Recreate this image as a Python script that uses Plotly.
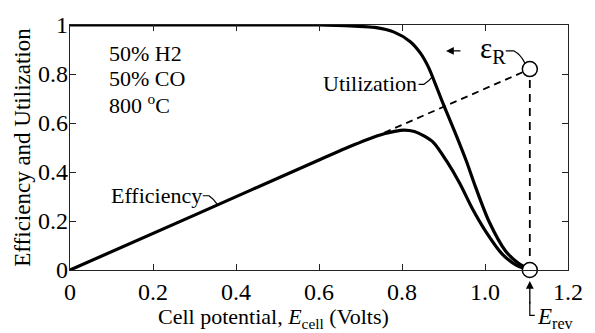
import plotly.graph_objects as go

# ---- data ----
E_util = [0.0, 0.3, 0.6, 0.686, 0.734, 0.781, 0.82, 0.844, 0.864, 0.88, 0.895, 0.911,
          0.927, 0.955, 0.978, 1.01, 1.049, 1.08, 1.108]
utilization = [1.0, 1.0, 1.0, 0.995, 0.99, 0.971, 0.932, 0.886, 0.827, 0.761, 0.696, 0.63,
               0.565, 0.445, 0.335, 0.197, 0.079, 0.028, 0.0]

E_eff = [0.0, 0.3, 0.6, 0.686, 0.72, 0.757, 0.78, 0.805, 0.83, 0.855, 0.876, 0.907,
         0.939, 0.97, 1.002, 1.041, 1.075, 1.108]
efficiency = [0.0, 0.224, 0.449, 0.512, 0.535, 0.556, 0.565, 0.571, 0.565, 0.545, 0.52, 0.446,
              0.354, 0.249, 0.157, 0.066, 0.02, 0.0]

E_REV = 1.108
EPS_R = 0.82
E_DEPART = 0.757

x_ticks = [0, 0.2, 0.4, 0.6, 0.8, 1.0, 1.2]
x_ticktext = ["0", "0.2", "0.4", "0.6", "0.8", "1.0", "1.2"]
y_ticks = [0, 0.2, 0.4, 0.6, 0.8, 1.0]
y_ticktext = ["0", "0.2", "0.4", "0.6", "0.8", "1"]

FONT = "Liberation Serif"
INK = "black"

fig = go.Figure()

# dashed reversible-efficiency line
fig.add_trace(go.Scatter(
    x=[E_DEPART, E_REV], y=[EPS_R * E_DEPART / E_REV, EPS_R],
    mode="lines", line=dict(color=INK, width=1.8, dash="7px,5px"),
    hoverinfo="skip", showlegend=False))
# vertical dashed at E_rev
fig.add_trace(go.Scatter(
    x=[E_REV, E_REV], y=[0, EPS_R],
    mode="lines", line=dict(color=INK, width=1.8, dash="8px,6px"),
    hoverinfo="skip", showlegend=False))

fig.add_trace(go.Scatter(
    x=E_util, y=utilization, mode="lines",
    line=dict(color=INK, width=3.2, shape="spline", smoothing=0.8),
    cliponaxis=False, showlegend=False))
fig.add_trace(go.Scatter(
    x=E_eff, y=efficiency, mode="lines",
    line=dict(color=INK, width=3.2, shape="spline", smoothing=0.8),
    cliponaxis=False, showlegend=False))

# open circles
fig.add_trace(go.Scatter(
    x=[E_REV, E_REV], y=[EPS_R, 0], mode="markers",
    marker=dict(size=15, color="white", line=dict(color=INK, width=1.5)),
    cliponaxis=False, showlegend=False))

axis_common = dict(
    showgrid=False, zeroline=False, showline=True, linecolor="#222", linewidth=1.4,
    mirror="ticks", ticks="inside", ticklen=6, tickwidth=1.2, tickcolor="#222",
    tickfont=dict(family=FONT, size=24, color=INK),
)

fig.update_layout(
    width=595, height=333,
    margin=dict(l=70, r=18, t=16, b=63),
    paper_bgcolor="white", plot_bgcolor="white",
    font=dict(family=FONT, color=INK),
    xaxis=dict(range=[0, 1.2], tickvals=x_ticks, ticktext=x_ticktext, **axis_common),
    yaxis=dict(range=[0, 1], tickvals=y_ticks, ticktext=y_ticktext,
               ticklabelstandoff=-4,
               title=dict(text="Efficiency and Utilization",
                          font=dict(family=FONT, size=23, color=INK), standoff=0),
               **axis_common),
)

# x-axis title (offset left of centre, as in the reference)
fig.add_annotation(x=0.408, y=-0.197, xref="paper", yref="paper",
                   text="Cell potential, <i>E</i><sub>cell</sub> (Volts)",
                   showarrow=False, xanchor="center", yanchor="middle",
                   font=dict(family=FONT, size=22, color=INK))

tfont = dict(family=FONT, size=22, color=INK)
for txt, yy in [("50% H2", 0.882), ("50% CO", 0.78), ("800 <sup>o</sup>C", 0.677)]:
    fig.add_annotation(x=0.088, y=yy, text=txt, showarrow=False, xanchor="left",
                       yanchor="middle", font=tfont)

fig.add_annotation(x=0.842, y=0.76, text="Utilization", showarrow=False,
                   xanchor="right", yanchor="middle", font=tfont)
fig.add_annotation(x=0.322, y=0.303, text="Efficiency", showarrow=False,
                   xanchor="right", yanchor="middle", font=tfont)

# leaders
fig.add_shape(type="path", xref="x", yref="y",
              path="M 0.84 0.758 L 0.853 0.758 Q 0.865 0.77 0.874 0.79",
              line=dict(color=INK, width=1.2))
fig.add_shape(type="path", xref="x", yref="y",
              path="M 0.32 0.303 L 0.335 0.303 Q 0.346 0.29 0.355 0.268",
              line=dict(color=INK, width=1.2))
fig.add_shape(type="path", xref="x", yref="y",
              path="M 1.05 0.894 L 1.07 0.894 Q 1.086 0.88 1.096 0.845",
              line=dict(color=INK, width=1.2))

# epsilon_R with left arrow
fig.add_annotation(x=1.02, y=0.9, text="ε<sub>R</sub>", showarrow=False,
                   xanchor="center", yanchor="middle",
                   font=dict(family=FONT, size=29, color=INK))
fig.add_annotation(x=0.906, y=0.894, ax=16, ay=0, text="", showarrow=True,
                   arrowhead=2, arrowsize=1.2, arrowwidth=1.3, arrowcolor=INK,
                   xref="x", yref="y", axref="pixel", ayref="pixel")

# E_rev with up arrow and L leader
fig.add_annotation(x=E_REV, y=-0.045, xref="x", yref="paper", ax=0, ay=24,
                   text="", showarrow=True, arrowhead=2, arrowsize=1.2,
                   arrowwidth=1.3, arrowcolor=INK)
fig.add_shape(type="path", xref="x", yref="paper",
              path=f"M {E_REV} -0.13 L {E_REV} -0.185 L {E_REV + 0.012} -0.185",
              line=dict(color=INK, width=1.2))
fig.add_annotation(x=E_REV + 0.012, y=-0.195, xref="x", yref="paper",
                   text="<i>E</i><sub>rev</sub>", showarrow=False,
                   xanchor="left", yanchor="middle",
                   font=dict(family=FONT, size=23, color=INK))

fig.write_html("out.html")
